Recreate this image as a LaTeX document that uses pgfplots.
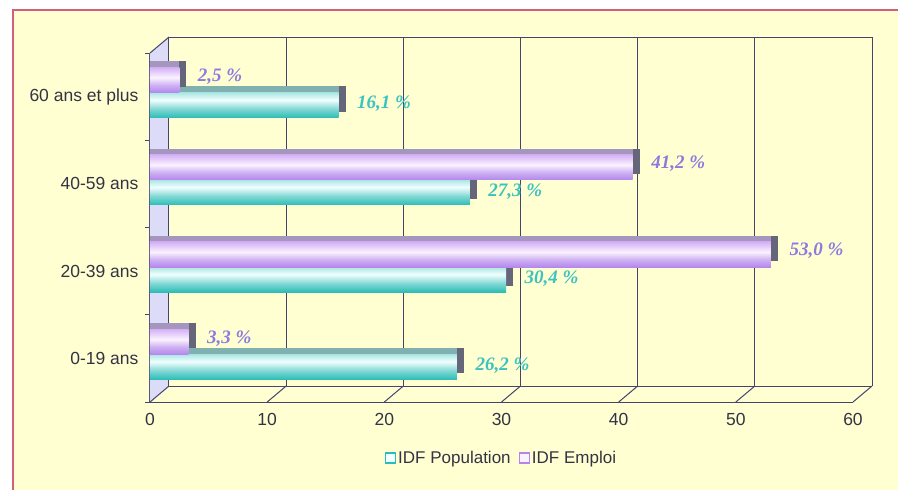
\documentclass[border=0pt]{standalone}
\usepackage{pgfplots}
\pgfplotsset{compat=1.18}
\usepackage{fontspec}
\setmainfont{Liberation Sans}
\newfontfamily\labfont{Liberation Serif}
\definecolor{bgyellow}{HTML}{FFFFD2}
\definecolor{bordercol}{HTML}{D0607E}
\definecolor{axiscol}{HTML}{44446E}
\definecolor{txtcol}{HTML}{333344}
\definecolor{tealtop}{HTML}{A8E4E2}
\definecolor{tealmid}{HTML}{F0FFFF}
\definecolor{tealbot}{HTML}{2CBDB6}
\definecolor{tealface}{HTML}{80B0B0}
\definecolor{purptop}{HTML}{D4B0F6}
\definecolor{purpmid}{HTML}{FAF2FF}
\definecolor{purpbot}{HTML}{B486EC}
\definecolor{purpface}{HTML}{A496BC}
\definecolor{endface}{HTML}{66667A}
\definecolor{tealtxt}{HTML}{3CC2C0}
\definecolor{purptxt}{HTML}{8C7AE0}
\definecolor{wall}{HTML}{DCDCF8}
\pgfdeclareverticalshading{tealbar}{100bp}{color(0bp)=(tealbot); color(25bp)=(tealbot); color(42bp)=(tealbot!60!white); color(60bp)=(tealmid); color(75bp)=(tealtop); color(100bp)=(tealtop)}
\pgfdeclareverticalshading{purpbar}{100bp}{color(0bp)=(purpbot); color(25bp)=(purpbot); color(40bp)=(purpbot!65!white); color(55bp)=(purpmid); color(75bp)=(purptop); color(100bp)=(purptop)}
\pgfplotsset{
  labstyle/.style 2 args={point meta=x,
    nodes near coords={\pgfmathprintnumber[fixed, fixed zerofill, precision=1, use comma]{\pgfplotspointmeta}~\%},
    nodes near coords style={anchor=west, xshift=15pt, yshift=#2, text=#1, font=\labfont\bfseries\itshape\fontsize{19}{19}\selectfont}},
}
% #1 value, #2 category, #3 bar shift, #4 face colour, #5 shading, #6 text colour, #7 label yshift
\newcommand\barthreed[7]{%
  \addplot[xbar, bar width=0.29, bar shift=#3, fill=endface, draw=none, xshift=7pt, yshift=6pt, forget plot]
    coordinates {(#1,#2)};
  \addplot[xbar, bar width=0.29, bar shift=#3, fill=#4, draw=none, yshift=6pt, forget plot]
    coordinates {(#1,#2)};
  \addplot[xbar, bar width=0.29, bar shift=#3, draw=none, shading=#5, forget plot, labstyle={#6}{#7}]
    coordinates {(#1,#2)};
}
\begin{document}
\begin{tikzpicture}[x=1pt,y=1pt]
\useasboundingbox (0pt,0pt) rectangle (898pt,490pt);
\begin{scope}
\clip (0pt,0pt) rectangle (898pt,490pt);
\fill[bgyellow] (13pt,-10pt) rectangle (910pt,480pt);
\draw[bordercol, line width=2.5pt] (13pt,-10pt) rectangle (910pt,480pt);
\end{scope}
\begin{axis}[
  at={(150pt,131.6pt)}, anchor=origin,
  width=703pt, height=349pt, scale only axis,
  xmin=0, xmax=60, ymin=-0.5, ymax=3.5,
  axis x line*=bottom, axis y line*=left,
  axis line style={axiscol, line width=1pt, -},
  xtick={0,10,20,30,40,50,60},
  ytick={0,1,2,3},
  yticklabels={0-19 ans,20-39 ans,40-59 ans,60 ans et plus},
  minor ytick={-0.5,0.5,1.5,2.5,3.5},
  major tick length=0pt, minor tick length=5pt, tick align=outside,
  minor tick style={axiscol, line width=0.8pt},
  /pgf/number format/assume math mode=true,
  tick label style={font=\fontsize{17.5}{20}\selectfont, text=txtcol},
  xticklabel style={yshift=-8pt},
  yticklabel style={xshift=-8pt},
  legend style={at={(axis description cs:0.5,-0.16)}, anchor=center, legend columns=2, draw=none, fill=none, font=\fontsize{17}{20}\selectfont, text=txtcol, /tikz/every even column/.append style={column sep=6pt}},
  clip=false,
]
% left wall
\fill[wall] (axis cs:0,-0.5) -- ([shift={(19pt,16pt)}]axis cs:0,-0.5) -- ([shift={(19pt,16pt)}]axis cs:0,3.5) -- (axis cs:0,3.5) -- cycle;
% back plane grid and floor
\pgfplotsinvokeforeach{0,10,20,30,40,50,60}{
  \draw[axiscol, line width=1pt] ([shift={(19pt,16pt)}]axis cs:#1,-0.5) -- ([shift={(19pt,16pt)}]axis cs:#1,3.5);
  \draw[axiscol, line width=1pt] (axis cs:#1,-0.5) -- ([shift={(19pt,16pt)}]axis cs:#1,-0.5);
}
\draw[axiscol, line width=1pt] ([shift={(19pt,16pt)}]axis cs:0,-0.5) -- ([shift={(19pt,16pt)}]axis cs:60,-0.5);
\draw[axiscol, line width=1pt] ([shift={(19pt,16pt)}]axis cs:0,3.5) -- ([shift={(19pt,16pt)}]axis cs:60,3.5);
\draw[axiscol, line width=1pt] (axis cs:0,3.5) -- ([shift={(19pt,16pt)}]axis cs:0,3.5);

% IDF Population
\barthreed{26.2}{0}{-0.095}{tealface}{tealbar}{tealtxt}{-7.5pt}
\barthreed{30.4}{1}{-0.095}{tealface}{tealbar}{tealtxt}{-7.5pt}
\barthreed{27.3}{2}{-0.095}{tealface}{tealbar}{tealtxt}{-7.5pt}
\barthreed{16.1}{3}{-0.095}{tealface}{tealbar}{tealtxt}{-7.5pt}
% IDF Emploi
\barthreed{3.3}{0}{0.19}{purpface}{purpbar}{purptxt}{20pt}
\barthreed{53.0}{1}{0.19}{purpface}{purpbar}{purptxt}{20pt}
\barthreed{41.2}{2}{0.19}{purpface}{purpbar}{purptxt}{20pt}
\barthreed{2.5}{3}{0.19}{purpface}{purpbar}{purptxt}{20pt}

\addlegendimage{legend image code/.code={\draw[draw=tealbot, fill=tealmid, line width=1.3pt] (0pt,-5pt) rectangle (10pt,5pt);}}
\addlegendentry{IDF Population}
\addlegendimage{legend image code/.code={\draw[draw=purpbot, fill=purpmid, line width=1.3pt] (0pt,-5pt) rectangle (10pt,5pt);}}
\addlegendentry{IDF Emploi}
\end{axis}
\end{tikzpicture}
\end{document}
